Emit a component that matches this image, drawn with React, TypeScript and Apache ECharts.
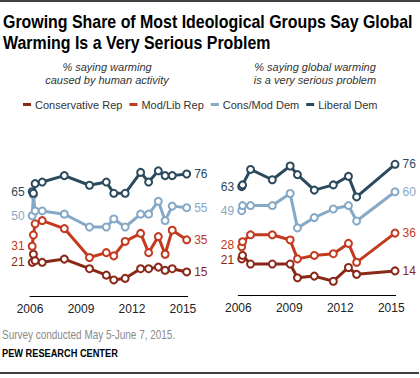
import React, { useEffect, useRef } from "react";
import * as echarts from "echarts";

// ---- Data ----
const seriesNames = ["Conservative Rep", "Mod/Lib Rep", "Cons/Mod Dem", "Liberal Dem"];
const seriesColors = ["#8a2818", "#c43a20", "#85a9c6", "#2c4a5e"];

// Left panel: % saying warming caused by human activity (survey dates as decimal years)
const leftDates = [2006.13, 2006.2, 2006.3, 2006.72, 2008.02, 2009.5, 2010.49, 2010.93, 2011.6, 2012.51, 2012.98, 2013.55, 2013.95, 2014.37, 2015.22];
const leftConsRep = [21, 26, 22, 21, 23, 17, 13, 10, 11, 17, 17, 18, 16, 17, 15];
const leftModLibRep = [31, 38, 45, 47, 42, 24, 27, 25, 34, 39, 27, 37, 26, 41, 35];
const leftConsModDem = [50, 63, 53, 53, 51, 43, 43, 48, 43, 51, 51, 59, 47, 56, 55];
const leftLibDem = [65, 64, 70, 71, 75, 69, 71, 64, 64, 77, 71, 78, 75, 75, 76];

// Right panel: % saying global warming is a very serious problem
const rightDates = [2006.2, 2006.25, 2006.72, 2008.0, 2009.05, 2009.48, 2010.47, 2011.59, 2012.48, 2012.96, 2015.22];
const rightConsRep = [21, 23, 18, 18, 18, 10, 11, 8, 16, 12, 14];
const rightModLibRep = [28, 31, 35, 35, 32, 21, 23, 24, 30, 19, 36];
const rightConsModDem = [49, 52, 52, 52, 59, 39, 45, 50, 52, 43, 60];
const rightLibDem = [63, 64, 73, 67, 75, 70, 61, 64, 69, 57, 76];

const yearTicks = [2006, 2009, 2012, 2015];

const titleText = "Growing Share of Most Ideological Groups Say Global\nWarming Is a Very Serious Problem";
const leftSubtitle = "% saying warming\ncaused by human activity";
const rightSubtitle = "% saying global warming\nis a very serious problem";
const noteText = "Survey conducted May 5-June 7, 2015.";
const sourceText = "PEW RESEARCH CENTER";

const SANS = "'Liberation Sans', Arial, sans-serif";

function makeSeries(
  name: string,
  color: string,
  dates: number[],
  values: number[],
  axisIndex: number,
  firstLabelDy = 0
) {
  const last = values.length - 1;
  return {
    name,
    type: "line",
    xAxisIndex: axisIndex,
    yAxisIndex: axisIndex,
    symbol: "circle",
    symbolSize: 7,
    showAllSymbol: true,
    color,
    lineStyle: { color, width: 3 },
    itemStyle: { color: "#ffffff", borderColor: color, borderWidth: 2 },
    emphasis: { disabled: true },
    label: {
      show: false,
      color,
      fontFamily: SANS,
      fontSize: 12,
      lineHeight: 11,
      distance: 3,
      formatter: (p: any) => String(p.value[1]),
    },
    data: values.map((v, i) => {
      const item: any = { value: [dates[i], v] };
      if (i === 0) item.label = { show: true, position: "left", offset: [0, firstLabelDy] };
      if (i === last) item.label = { show: true, position: "right" };
      return item;
    }),
    z: 2,
  };
}

export default function App() {
  const ref = useRef<HTMLDivElement>(null);

  useEffect(() => {
    if (!ref.current) return;
    const chart = echarts.init(ref.current, undefined, { renderer: "svg" });

    const leftSets = [leftConsRep, leftModLibRep, leftConsModDem, leftLibDem];
    const rightSets = [rightConsRep, rightModLibRep, rightConsModDem, rightLibDem];
    // small vertical nudges of the first-point labels in the right panel (as in the reference)
    const rightFirstLabelDy = [1, -2, 0, 0];

    const xAxisCommon = {
      type: "value",
      min: 2006,
      interval: 3,
      axisLine: { show: true, onZero: false, lineStyle: { color: "#000", width: 1 } },
      axisTick: { show: false },
      splitLine: { show: false },
      axisLabel: {
        color: "#222",
        fontFamily: SANS,
        fontSize: 12,
        margin: 7,
        customValues: yearTicks,
        formatter: (v: number) => String(v),
      },
    };

    const option: any = {
      animation: false,
      backgroundColor: "#ffffff",
      legend: {
        left: 18,
        top: 94,
        icon: "rect",
        itemWidth: 8,
        itemHeight: 3,
        itemGap: 7,
        selectedMode: false,
        textStyle: { fontFamily: SANS, fontSize: 11, color: "#333", padding: [0, 0, 0, -1] },
        data: seriesNames.map((n, i) => ({
          name: n,
          itemStyle: { color: seriesColors[i], borderWidth: 0 },
        })),
      },
      grid: [
        { left: 30, top: 135.5, width: 157.7, height: 160.5 },
        { left: 238.3, top: 123, width: 157.4, height: 172 },
      ],
      xAxis: [
        { ...xAxisCommon, gridIndex: 0, max: 2015.28 },
        { ...xAxisCommon, gridIndex: 1, max: 2015.26 },
      ],
      yAxis: [
        { type: "value", gridIndex: 0, min: 0, max: 100, show: false },
        { type: "value", gridIndex: 1, min: 0, max: 100, show: false },
      ],
      series: [
        ...seriesNames.map((n, i) => makeSeries(n, seriesColors[i], leftDates, leftSets[i], 0)),
        ...seriesNames.map((n, i) =>
          makeSeries(n, seriesColors[i], rightDates, rightSets[i], 1, rightFirstLabelDy[i])
        ),
      ],
      graphic: [
        { type: "line", shape: { x1: 0, y1: 1, x2: 420, y2: 1 }, style: { stroke: "#000", lineWidth: 1.5 } },
        {
          type: "text",
          x: 3,
          y: 12,
          scaleX: 0.885,
          style: {
            text: titleText,
            fontFamily: SANS,
            fontWeight: "bold",
            fontSize: 18,
            lineHeight: 21,
            fill: "#000",
          },
        },
        {
          type: "text",
          x: 107,
          y: 60,
          style: {
            text: leftSubtitle,
            align: "center",
            fontFamily: SANS,
            fontStyle: "italic",
            fontSize: 11,
            lineHeight: 13,
            fill: "#333",
          },
        },
        {
          type: "text",
          x: 315,
          y: 60,
          style: {
            text: rightSubtitle,
            align: "center",
            fontFamily: SANS,
            fontStyle: "italic",
            fontSize: 11,
            lineHeight: 13,
            fill: "#333",
          },
        },
        {
          type: "text",
          x: 2,
          y: 329,
          scaleX: 0.83,
          style: { text: noteText, fontFamily: SANS, fontSize: 12, fill: "#8a8a8a" },
        },
        {
          type: "text",
          x: 2,
          y: 348,
          scaleX: 0.84,
          style: { text: sourceText, fontFamily: SANS, fontWeight: "bold", fontSize: 11, fill: "#000" },
        },
        { type: "line", shape: { x1: 0, y1: 373, x2: 419, y2: 373 }, style: { stroke: "#000", lineWidth: 1.5 } },
      ],
    };

    chart.setOption(option);
    return () => chart.dispose();
  }, []);

  return (
    <div
      ref={ref}
      style={{ position: "fixed", left: 0, top: 0, width: 420, height: 378, background: "#fff" }}
    />
  );
}
